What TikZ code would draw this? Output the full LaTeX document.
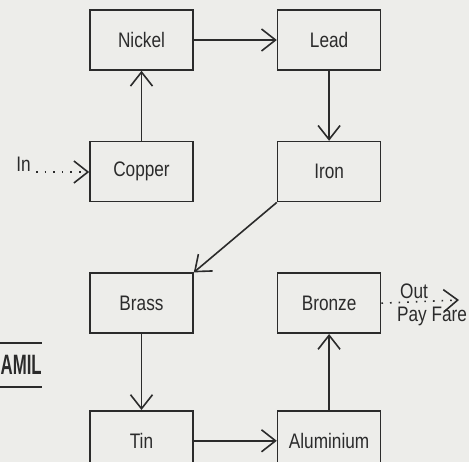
\documentclass[tikz,border=0pt]{standalone}
\usepackage{fontspec}
\setmainfont{Liberation Sans}[FakeStretch=0.82]
\newfontfamily\headfont{Liberation Sans}[FakeStretch=0.6]
\usetikzlibrary{arrows.meta,positioning}
\definecolor{cInk}{HTML}{2B2B2B}
\definecolor{cPaper}{HTML}{EDEDEA}
\tikzset{
  box/.style = {rectangle, draw=cInk, line width=1.6pt, minimum width=103pt,
                minimum height=60pt, inner sep=0pt, text=cInk,
                font=\fontsize{21}{25}\selectfont},
  fl/.style  = {-{Straight Barb[length=14pt,width=22pt,line width=1.6pt]},
                draw=cInk, line width=1.6pt},
  dfl/.style = {fl, dash pattern=on 1.6pt off 7pt},
  lab/.style = {text=cInk, inner sep=0pt, font=\fontsize{21}{25}\selectfont},
}
\begin{document}
\begin{tikzpicture}[x=1pt, y=-1pt, node distance=70pt and 83pt]
  \useasboundingbox (0,0) rectangle (469,462);
  \fill[cPaper] (0,0) rectangle (469,462);
  \clip (0,0) rectangle (469,462);

  \node[box] (nickel) at (141.5,40) {Nickel};
  \node[box, right=of nickel] (lead) {Lead};
  \node[box, below=of nickel] (copper) {Copper};
  \node[box, below=of lead] (iron) {Iron};
  \node[box, below=of copper] (brass) {Brass};
  \node[box, below=of iron] (bronze) {Bronze};
  \node[box, below=76pt of brass] (tin) {Tin};
  \node[box, below=76pt of bronze] (alu) {Aluminium};

  \node[lab, anchor=base east] (in) at (31,172) {In};
  \node[lab, anchor=base] (out) at (414,299) {Out};
  \node[lab, anchor=base] (fare) at (432,322) {Pay Fare};
  \coordinate (outend) at (459,300);

  % page heading at the left edge
  \node[lab, anchor=base west, font=\headfont\bfseries\fontsize{28}{30}\selectfont]
    (amil) at (0.5,375) {AMIL};
  \draw[cInk, line width=1.6pt] (0,343) -- (42,343);
  \draw[cInk, line width=1.6pt] (0,387) -- (42,387);

  \draw[fl] (copper) -- (nickel);
  \draw[fl] (nickel) -- (lead);
  \draw[fl] (lead) -- (iron);
  \draw[fl] (iron.south west) -- (brass.north east);
  \draw[fl] (brass) -- (tin);
  \draw[fl] (tin) -- (alu);
  \draw[fl] (alu) -- (bronze);
  \draw[dfl] ([xshift=5pt]in.base east) -- (in.base east -| copper.west);
  \draw[dfl] (bronze.east) -- (outend);
\end{tikzpicture}
\end{document}
